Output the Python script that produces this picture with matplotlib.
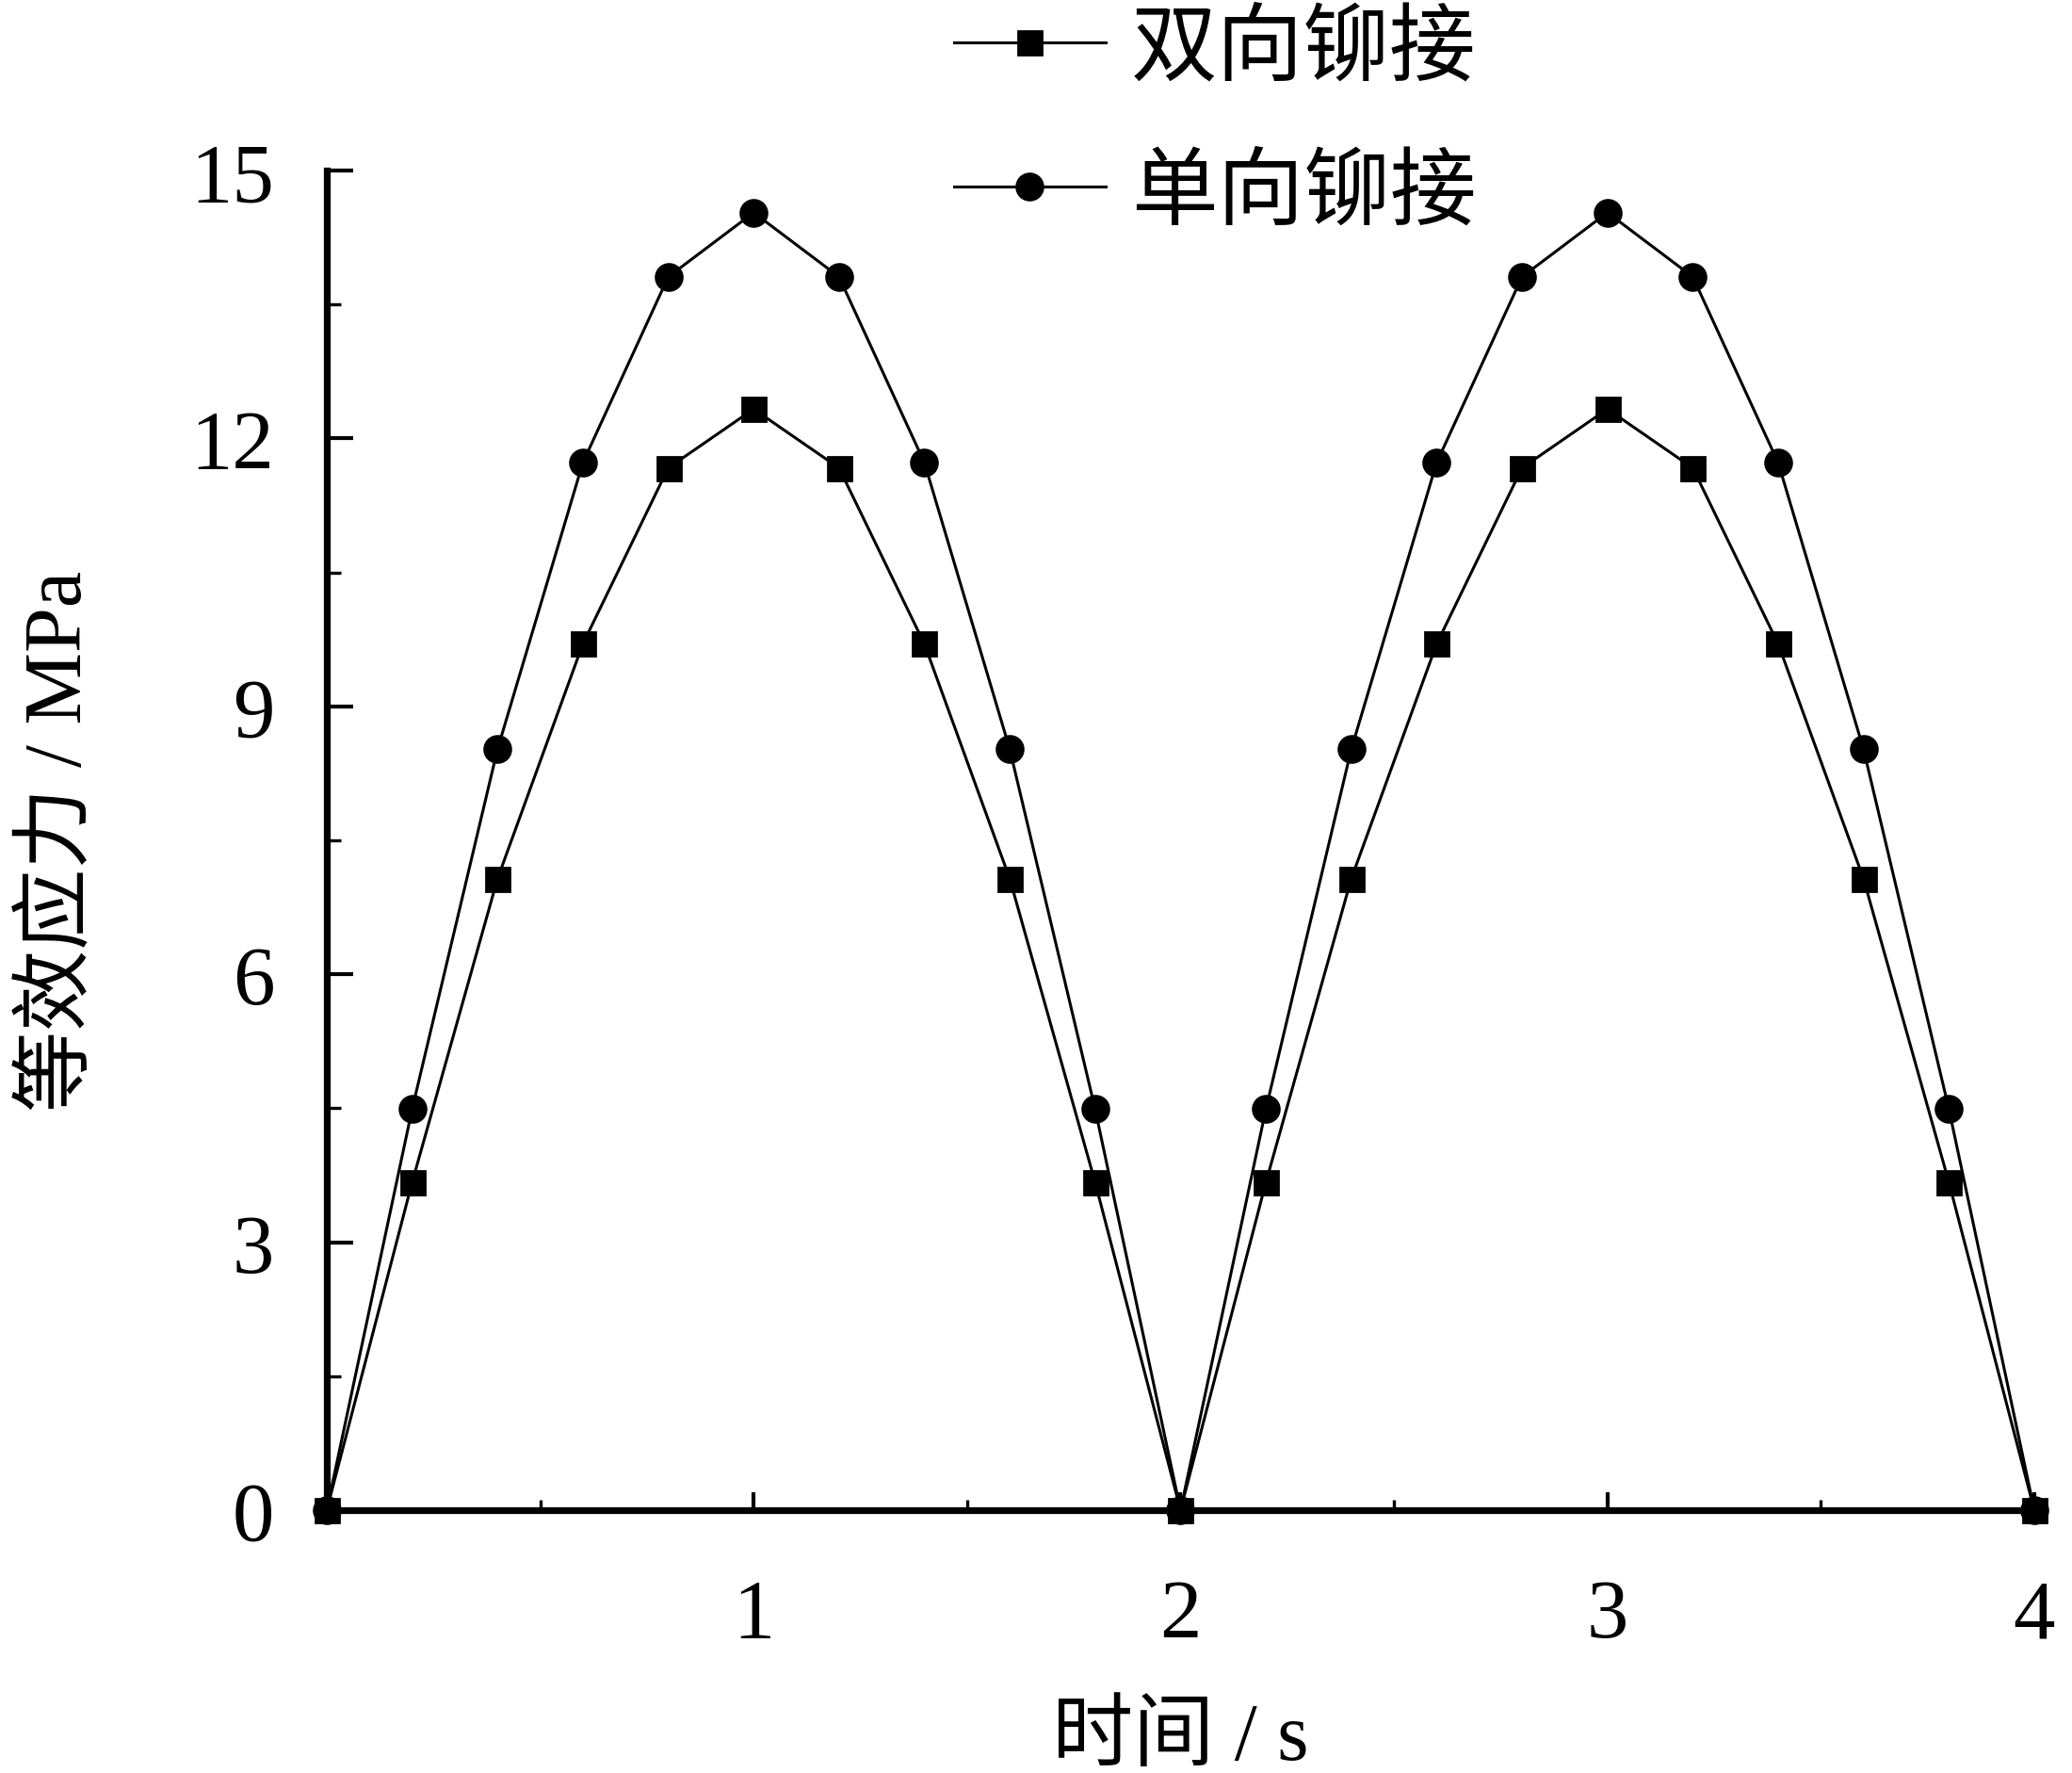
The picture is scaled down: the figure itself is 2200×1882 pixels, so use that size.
import numpy as np
import matplotlib
matplotlib.use("Agg")
import matplotlib.pyplot as plt
from matplotlib.ticker import MultipleLocator

plt.rcParams['font.family'] = ['Liberation Serif', 'Noto Sans CJK SC']

# time points (s) and equivalent stress (MPa)
t = [0.0, 0.2, 0.4, 0.6, 0.8, 1.0, 1.2, 1.4, 1.6, 1.8, 2.0,
     2.2, 2.4, 2.6, 2.8, 3.0, 3.2, 3.4, 3.6, 3.8, 4.0]
double_rivet = [0, 3.67, 7.07, 9.70, 11.67, 12.33, 11.67, 9.70, 7.07, 3.67, 0,
                3.67, 7.07, 9.70, 11.67, 12.33, 11.67, 9.70, 7.07, 3.67, 0]
single_rivet = [0, 4.49, 8.52, 11.73, 13.81, 14.53, 13.81, 11.73, 8.52, 4.49, 0,
                4.49, 8.52, 11.73, 13.81, 14.53, 13.81, 11.73, 8.52, 4.49, 0]
labels = ['双向铆接', '单向铆接']

fig = plt.figure(figsize=(11, 9.415), dpi=200)
ax = fig.add_axes([0.1577, 0.1482, 0.8241, 0.7551])

ax.plot(t, double_rivet, color='black', lw=1.1, marker='s', ms=9,
        label=labels[0], clip_on=False, zorder=3)
ax.plot(t, single_rivet, color='black', lw=1.1, marker='o', ms=10,
        label=labels[1], clip_on=False, zorder=3)

ax.set_xlim(0, 4)
ax.set_ylim(0, 15)
ax.set_xticks([1, 2, 3, 4])
ax.set_yticks([0, 3, 6, 9, 12, 15])
ax.xaxis.set_minor_locator(MultipleLocator(0.5))
ax.yaxis.set_minor_locator(MultipleLocator(1.5))

for s in ['top', 'right']:
    ax.spines[s].set_visible(False)
for s in ['left', 'bottom']:
    ax.spines[s].set_linewidth(2.6)

ax.tick_params(axis='y', which='major', direction='in', length=10, width=1.5,
               labelsize=32, pad=20)
ax.tick_params(axis='y', which='minor', direction='in', length=5.5, width=1.2)
ax.tick_params(axis='x', which='major', direction='in', length=7, width=1.5,
               labelsize=32, pad=26)
ax.tick_params(axis='x', which='minor', direction='in', length=4, width=1.2)

ax.set_xlabel('时间 / s', fontsize=31, labelpad=18)
ax.set_ylabel('等效应力 / MPa', fontsize=31, labelpad=35)

fig.legend(loc='upper left', bbox_to_anchor=(0.423, 1.037), frameon=False,
           fontsize=33, handlelength=1.75, handletextpad=0.3, labelspacing=0.75)

fig.savefig('out.png', dpi=200)
